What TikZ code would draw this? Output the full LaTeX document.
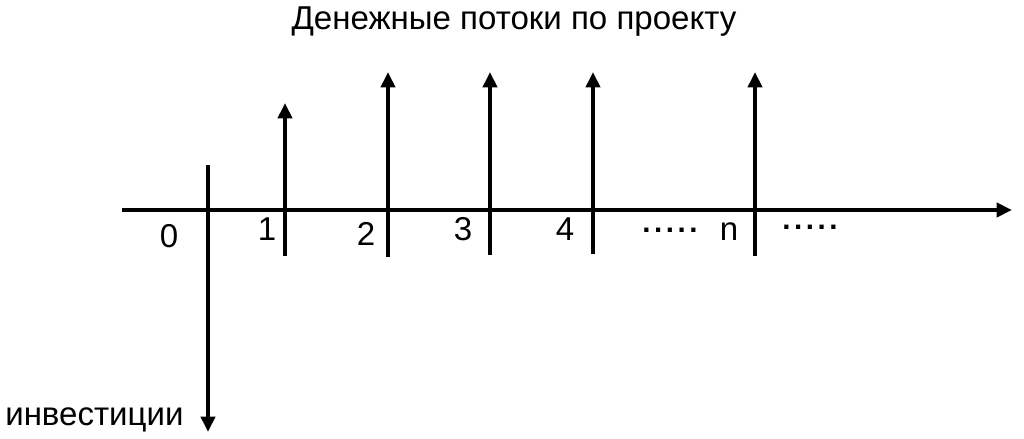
\documentclass[tikz,border=0pt]{standalone}
\usepackage{fontspec}
\setmainfont{Liberation Sans}
\usetikzlibrary{arrows.meta}

\tikzset{
  flow/.style={line width=2.8pt,-{Triangle[length=11pt,width=10pt]}},
  lbl/.style={anchor=base,inner sep=0pt,font=\fontsize{23.5}{28}\selectfont},
  dots/.style={anchor=base,inner sep=0pt,font=\fontsize{21}{25}\selectfont\bfseries\addfontfeature{LetterSpace=12}}
}

\begin{document}
\begin{tikzpicture}[x=0.025cm,y=-0.025cm]
 \useasboundingbox (0,0) rectangle (1024,439);

 \node[lbl] (title) at (514,30) {Денежные потоки по проекту};

% time axis
 \coordinate (axisstart) at (122,210);
 \coordinate (axisend) at (1012,210);
 \draw[flow] (axisstart) -- (axisend);

% investment at 0
 \coordinate (invtop) at (208,165);
 \coordinate (invend) at (208,432);
 \draw[flow] (invtop) -- (invend);
 \node[lbl,anchor=base west] (inv) at (5,425) {инвестиции};

% cash inflows
 \foreach \name/\x/\ytop/\ybot in {p1/285/103/256,p2/388/72/257,p3/490/72/255,p4/593/72/254,pn/755/72/256}{
  \coordinate (\name bot) at (\x,\ybot);
  \coordinate (\name top) at (\x,\ytop);
  \draw[flow] (\name bot) -- (\name top);
 }

% period numbers
 \node[lbl] (t0) at (169,247) {0};
 \node[lbl] (t1) at (267,240) {1};
 \node[lbl] (t2) at (366,245) {2};
 \node[lbl] (t3) at (463,240) {3};
 \node[lbl] (t4) at (565,240) {4};
 \node[lbl] (tn) at (729,240) {n};
 \node[dots] (dotsa) at (670,232) {.....};
 \node[dots] (dotsb) at (810,229) {.....};

\end{tikzpicture}
\end{document}
